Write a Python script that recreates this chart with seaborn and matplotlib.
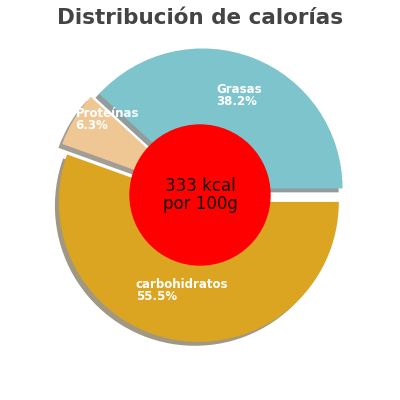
import numpy as np
import matplotlib.pyplot as plt
import seaborn as sns

sns.set_theme(style="white")

labels = ["Grasas", "Proteínas", "carbohidratos"]
values = [38.2, 6.3, 55.5]
colors = ["#7ec4cc", "#efc794", "#dba421"]

fig = plt.figure(figsize=(4, 4), dpi=100)
ax = fig.add_axes([0.115, 0.1275, 0.77, 0.77])
wedges, _ = ax.pie(values, colors=colors, startangle=0, counterclock=True,
                   explode=[0.05, 0.05, 0.05], shadow=True,
                   wedgeprops=dict(linewidth=0))

# labels inside the slices, left aligned, white bold
offsets = {"Grasas": (0.72, 12.0), "Proteínas": (1.04, 0.0), "carbohidratos": (0.82, -24.0)}
start = 0.0
for lab, v in zip(labels, values):
    ang = np.deg2rad(start + v * 3.6 / 2 + offsets[lab][1])
    r = offsets[lab][0]
    x, y = r * np.cos(ang), r * np.sin(ang)
    ax.text(x, y, f"{lab}\n{v}%", color="white", fontsize=8.5, fontweight="bold",
            ha="left", va="center", linespacing=0.9)
    start += v * 3.6

ax.add_patch(plt.Circle((0, 0), 0.5, color="red", zorder=5))
ax.text(0, 0, "333 kcal\npor 100g", ha="center", va="center", fontsize=12,
        color="#111111", zorder=6, linespacing=1.0)
ax.set_xlim(-1.1, 1.1)
ax.set_ylim(-1.1, 1.1)
ax.set_aspect("equal")
ax.axis("off")

fig.text(0.5, 0.955, "Distribución de calorías", ha="center", va="center",
         fontsize=15.5, fontweight="bold", color="#444444")
fig.savefig("out.png", dpi=100)
